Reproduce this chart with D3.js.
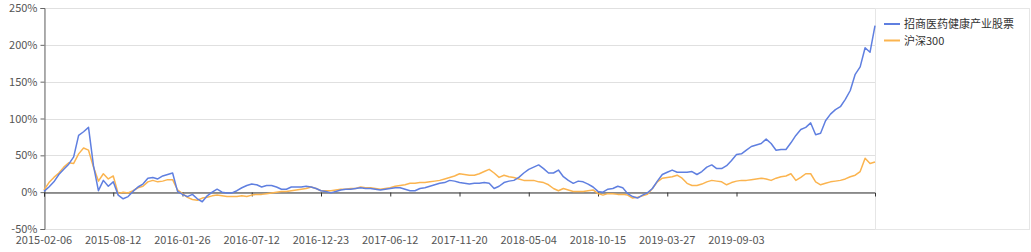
<!DOCTYPE html>
<html lang="en">
	<head>
	<meta charset="utf-8">
	<title>招商医药健康产业股票 vs 沪深300</title>
	<script src="https://d3js.org/d3.v7.min.js"></script>
	<style>
		body { margin: 0; background: #fff; }
		text { font-family: "Microsoft YaHei", "Noto Sans CJK SC", sans-serif; }
	</style>
</head>
	<body>
		<script type="text/javascript">

			// Tick labels on the date axis (one every 14 samples)
			var tickLabels = ["2015-02-06", "2015-08-12", "2016-01-26", "2016-07-12", "2016-12-23",
				"2017-06-12", "2017-11-20", "2018-05-04", "2018-10-15", "2019-03-27", "2019-09-03"];
			var tickStep = 14;

			var seriesNames = ["招商医药健康产业股票", "沪深300"];

			// cumulative return in %, sampled evenly along the axis
			var fundValues = [1, 7, 14, 24, 31, 38, 48, 77, 82, 88,
				36, 2, 16, 8, 14, -4, -9, -6, 1, 7,
				11, 19, 20, 18, 22, 24, 26, 1, -3, -6,
				-3, -9, -13, -5, 0, 4, 0, -1, -1, 2,
				6, 9, 11, 10, 7, 9, 9, 7, 4, 4,
				7, 7, 7, 8, 7, 5, 2, 1, -1, 1,
				3, 4, 4, 5, 6, 5, 5, 4, 3, 4,
				5, 6, 6, 4, 2, 2, 5, 6, 8, 10,
				12, 13, 16, 15, 13, 12, 11, 12, 12, 13,
				12, 5, 8, 13, 15, 16, 20, 26, 31, 34,
				37, 32, 26, 26, 30, 21, 16, 12, 15, 14,
				11, 7, 1, 0, 4, 5, 8, 6, -2, -6,
				-8, -4, -1, 5, 15, 24, 27, 30, 27, 27,
				27, 28, 24, 28, 34, 37, 32, 32, 36, 43,
				51, 52, 57, 62, 64, 66, 72, 66, 57, 58,
				58, 67, 77, 85, 88, 94, 78, 80, 97, 106,
				112, 116, 126, 138, 160, 170, 196, 190, 226];

			var indexValues = [3, 13, 20, 26, 34, 40, 39, 52, 60, 57,
				34, 15, 25, 18, 22, -2, 0, -1, 2, 6,
				8, 14, 16, 14, 15, 17, 17, 3, -2, -7,
				-10, -11, -8, -7, -5, -4, -5, -6, -6, -6,
				-5, -6, -4, -3, -3, -2, -1, 0, 1, 1,
				2, 3, 4, 5, 7, 5, 2, 2, 2, 3,
				4, 4, 5, 5, 7, 6, 6, 5, 4, 5,
				6, 8, 9, 10, 12, 12, 13, 13, 14, 15,
				16, 18, 20, 22, 25, 24, 23, 23, 25, 28,
				31, 26, 20, 23, 21, 20, 18, 16, 16, 16,
				14, 13, 10, 5, 2, 5, 3, 1, 1, 1,
				2, 3, -2, -4, -2, -2, -3, -3, -4, -8,
				-7, -5, -3, 5, 14, 19, 20, 21, 23, 19,
				12, 9, 9, 11, 14, 16, 15, 14, 10, 13,
				15, 16, 16, 17, 18, 19, 18, 16, 19, 21,
				22, 25, 16, 20, 25, 25, 14, 10, 12, 14,
				15, 16, 18, 21, 23, 28, 46, 39, 41];

			var yTicks = [-50, 0, 50, 100, 150, 200, 250];
			var colors = ["#5f7fe0", "#fbb44f"];

			//Width and height
			var w = 1031;
			var h = 252;
			var plotLeft = 44, plotRight = 875, plotTop = 8, plotBottom = 229;

			//Create SVG element
			var svg = d3.select("body")
						.append("svg")
						.attr("width", w)
						.attr("height", h);

			var x = d3.scaleLinear()
					  .domain([0, fundValues.length - 1])
					  .range([plotLeft, plotRight]);

			var y = d3.scaleLinear()
					  .domain([-50, 250])
					  .range([plotBottom, plotTop]);

			// outer frame around plot and legend
			svg.append("rect")
			   .attr("x", plotLeft + 0.5)
			   .attr("y", plotTop + 0.5)
			   .attr("width", 1029 - plotLeft)
			   .attr("height", plotBottom - plotTop)
			   .attr("fill", "none")
			   .attr("stroke", "#e6e6e6");

			svg.append("line")
			   .attr("x1", plotRight + 0.5).attr("x2", plotRight + 0.5)
			   .attr("y1", plotTop).attr("y2", plotBottom)
			   .attr("stroke", "#e6e6e6");

			// horizontal grid lines
			svg.selectAll("line.grid")
			   .data(yTicks)
			   .enter()
			   .append("line")
			   .attr("class", "grid")
			   .attr("x1", plotLeft)
			   .attr("x2", plotRight)
			   .attr("y1", function(d) { return Math.round(y(d)) + 0.5; })
			   .attr("y2", function(d) { return Math.round(y(d)) + 0.5; })
			   .attr("stroke", "#e0e0e0");

			// y axis
			var yAxis = d3.axisLeft(y)
						  .tickValues(yTicks)
						  .tickSize(4)
						  .tickPadding(3)
						  .tickFormat(function(d) { return d + "%"; });

			var gy = svg.append("g")
						.attr("transform", "translate(" + (plotLeft + 0.5) + ",0)")
						.call(yAxis);
			gy.select(".domain").attr("stroke", "#666");
			gy.selectAll(".tick line").attr("stroke", "#666");
			gy.selectAll("text")
			  .attr("font-size", "11px")
			  .attr("fill", "#555")
			  .attr("font-family", "\"Microsoft YaHei\", \"Noto Sans CJK SC\", sans-serif");

			// x axis sits on the 0% line
			var tickIdx = tickLabels.map(function(d, i) { return i * tickStep; });
			var xAxis = d3.axisBottom(x)
						  .tickValues(tickIdx)
						  .tickSize(4)
						  .tickFormat("");

			var gx = svg.append("g")
						.attr("transform", "translate(0," + (Math.round(y(0)) + 0.5) + ")")
						.call(xAxis);
			gx.select(".domain").attr("stroke", "#333");
			gx.selectAll(".tick line").attr("stroke", "#333");

			// date labels at the bottom
			svg.selectAll("text.xlab")
			   .data(tickLabels)
			   .enter()
			   .append("text")
			   .attr("class", "xlab")
			   .text(function(d) { return d; })
			   .attr("x", function(d, i) { return x(i * tickStep); })
			   .attr("y", 244)
			   .attr("text-anchor", "middle")
			   .attr("font-size", "11px")
			   .attr("fill", "#555");

			// the two lines
			var line = d3.line()
						 .x(function(d, i) { return x(i); })
						 .y(function(d) { return y(d); });

			var allSeries = [indexValues, fundValues];
			var allColors = [colors[1], colors[0]];

			svg.selectAll("path.series")
			   .data(allSeries)
			   .enter()
			   .append("path")
			   .attr("class", "series")
			   .attr("d", line)
			   .attr("fill", "none")
			   .attr("stroke", function(d, i) { return allColors[i]; })
			   .attr("stroke-width", 1.5)
			   .attr("stroke-linejoin", "round");

			// legend
			var legend = svg.selectAll("g.legend")
							.data(seriesNames)
							.enter()
							.append("g")
							.attr("class", "legend")
							.attr("transform", function(d, i) {
								return "translate(884," + (24 + i * 16.5) + ")";
							});

			legend.append("line")
				  .attr("x1", 0).attr("x2", 16)
				  .attr("y1", 0).attr("y2", 0)
				  .attr("stroke", function(d, i) { return colors[i]; })
				  .attr("stroke-width", 2);

			legend.append("text")
				  .text(function(d) { return d; })
				  .attr("x", 20)
				  .attr("y", 4)
				  .attr("font-size", "11px")
				  .attr("fill", "#333");

		</script>
	</body>
</html>
